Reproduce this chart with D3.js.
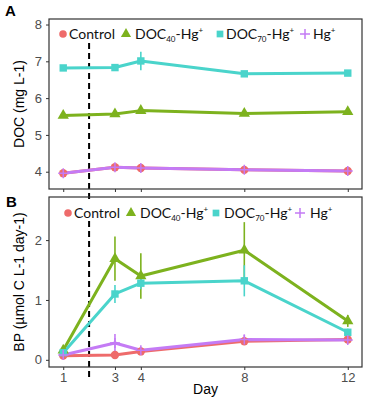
<!DOCTYPE html>
<html><head><meta charset="utf-8">
<script src="https://cdn.jsdelivr.net/npm/d3@7"></script>
<style>body{margin:0;background:#fff}svg{display:block}</style>
</head><body>
<script>
const days = [1, 3, 4, 8, 12];
const seriesNames = ["Control", "DOC40-Hg+", "DOC70-Hg+", "Hg+"];
// Panel A: DOC (mg L-1)
const docControl = [3.96, 4.12, 4.10, 4.05, 4.02];
const docDOC40   = [5.53, 5.57, 5.66, 5.58, 5.63];
const docDOC70   = [6.82, 6.83, 7.01, 6.66, 6.68];
const docHg      = [3.96, 4.12, 4.10, 4.05, 4.02];
const docErrControl = [0.02, 0.03, 0.03, 0.02, 0.02];
const docErrDOC40   = [0.04, 0.04, 0.04, 0.04, 0.04];
const docErrDOC70   = [0.03, 0.04, 0.25, 0.03, 0.03];
const docErrHg      = [0.02, 0.04, 0.04, 0.03, 0.03];
// Panel B: BP (µmol C L-1 day-1)
const bpControl = [0.07, 0.08, 0.14, 0.31, 0.34];
const bpDOC40   = [0.16, 1.69, 1.40, 1.83, 0.65];
const bpDOC70   = [0.12, 1.10, 1.28, 1.32, 0.46];
const bpHg      = [0.08, 0.28, 0.16, 0.34, 0.33];
const bpErrControl = [0.01, 0.02, 0.03, 0.03, 0.03];
const bpErrDOC40   = [0.03, 0.37, 0.38, 0.47, 0.10];
const bpErrDOC70   = [0.02, 0.15, 0.10, 0.26, 0.06];
const bpErrHg      = [0.02, 0.15, 0.06, 0.08, 0.05];
const docTicks = [4, 5, 6, 7, 8];
const bpTicks = [0, 1, 2];
const dayTicks = [1, 3, 4, 8, 12];
const treatmentDay = 2;

const colors = ["#EE6B6B", "#7DB21E", "#4AD4CB", "#C47BF5"];

const W = 367, H = 400;
const svg = d3.select("body").append("svg").attr("width", W).attr("height", H);
const left = 49, right = 362;
const x = d3.scaleLinear().domain([0.45, 12.55]).range([left, right]);

function panel(cfg) {
  const y = d3.scaleLinear().domain(cfg.domain).range([cfg.bottom, cfg.top]);
  const g = svg.append("g");
  const ya = g.append("g").attr("transform", `translate(${left},0)`)
    .call(d3.axisLeft(y).tickValues(cfg.ticks).tickSize(3).tickFormat(d3.format("d")));
  ya.select(".domain").remove();
  ya.selectAll("line").attr("stroke", "#333");
  ya.selectAll("text").attr("fill", "#4d4d4d").attr("font-size", 13)
    .attr("font-family", "Liberation Sans, Arial, sans-serif").attr("dx", -1);
  const xa = g.append("g").attr("transform", `translate(0,${cfg.bottom})`)
    .call(d3.axisBottom(x).tickValues(dayTicks).tickSize(3).tickFormat(cfg.showX ? d3.format("d") : ""));
  xa.select(".domain").remove();
  xa.selectAll("line").attr("stroke", "#333");
  xa.selectAll("text").attr("fill", "#4d4d4d").attr("font-size", 13)
    .attr("font-family", "Liberation Sans, Arial, sans-serif");
  g.append("line").attr("x1", x(treatmentDay)).attr("x2", x(treatmentDay))
    .attr("y1", cfg.top + 24).attr("y2", cfg.bottom + 10)
    .attr("stroke", "#000").attr("stroke-width", 2).attr("stroke-dasharray", "6,4");
  const line = d3.line().x(d => x(d[0])).y(d => y(d[1]));
  cfg.series.forEach((s, i) => {
    const pts = days.map((d, j) => [d, s.v[j], s.e[j]]);
    g.append("g").selectAll("line").data(pts).join("line")
      .attr("x1", d => x(d[0])).attr("x2", d => x(d[0]))
      .attr("y1", d => y(d[1] - d[2])).attr("y2", d => y(d[1] + d[2]))
      .attr("stroke", colors[i]).attr("stroke-width", 1.6);
  });
  cfg.series.forEach((s, i) => {
    const pts = days.map((d, j) => [d, s.v[j]]);
    g.append("path").datum(pts).attr("d", line).attr("fill", "none")
      .attr("stroke", colors[i]).attr("stroke-width", 3).attr("stroke-linejoin", "round");
  });
  cfg.series.forEach((s, i) => {
    const pts = days.map((d, j) => [d, s.v[j]]);
    drawSym(g, i, pts.map(p => [x(p[0]), y(p[1])]), 55);
  });
  g.append("rect").attr("x", left).attr("y", cfg.top).attr("width", right - left)
    .attr("height", cfg.bottom - cfg.top).attr("fill", "none").attr("stroke", "#333").attr("stroke-width", 1.2);
  g.append("text").attr("transform", `translate(${cfg.titleX},${(cfg.top + cfg.bottom) / 2}) rotate(-90)`)
    .attr("text-anchor", "middle").attr("font-size", 14).attr("fill", "#000")
    .attr("font-family", "Liberation Sans, Arial, sans-serif").text(cfg.title);
  g.append("text").attr("x", cfg.labX).attr("y", cfg.labY).attr("font-size", 15).attr("font-weight", "bold")
    .attr("font-family", "Liberation Sans, Arial, sans-serif").text(cfg.label);
  legend(g, cfg.legY, cfg.legX);
}

function symPath(i, size) {
  if (i === 0) return d3.symbol(d3.symbolCircle, size)();
  if (i === 1) return d3.symbol(d3.symbolTriangle, size)();
  return d3.symbol(d3.symbolSquare, size)();
}
function drawSym(g, i, pts, size) {
  if (i < 3) {
    g.append("g").selectAll("path").data(pts).join("path")
      .attr("transform", d => `translate(${d[0]},${d[1]})`)
      .attr("d", symPath(i, size)).attr("fill", colors[i]);
  } else {
    g.append("g").selectAll("path").data(pts).join("path")
      .attr("transform", d => `translate(${d[0]},${d[1]})`)
      .attr("d", "M-5,0H5M0,-5V5").attr("stroke", colors[i]).attr("stroke-width", 1.5).attr("fill", "none");
  }
}

function legend(g, ly, lx) {
  const t = g.append("g").attr("font-family", "Lato, 'Open Sans', sans-serif").attr("font-size", 14).attr("fill", "#111");
  const items = [
    {sym: lx[0], tx: lx[1], parts: [["Control", ""]]},
    {sym: lx[2], tx: lx[3], parts: [["DOC", ""], ["40", "sub"], ["-Hg", "back"], ["+", "sup"]]},
    {sym: lx[4], tx: lx[5], parts: [["DOC", ""], ["70", "sub"], ["-Hg", "back"], ["+", "sup"]]},
    {sym: lx[6], tx: lx[7], parts: [["Hg", ""], ["+", "sup"]]}
  ];
  items.forEach((it, i) => {
    drawSym(g, i, [[it.sym, ly - 5]], 45);
    const txt = t.append("text").attr("x", it.tx).attr("y", ly);
    it.parts.forEach(p => {
      const ts = txt.append("tspan").text(p[0]);
      if (p[1] === "sub") ts.attr("font-size", 8).attr("dy", 3);
      else if (p[1] === "back") ts.attr("dy", -3);
      else if (p[1] === "sup") ts.attr("font-size", 8).attr("dy", -6);
    });
  });
}

panel({
  top: 19, bottom: 189, domain: [3.53, 8.15], ticks: docTicks, showX: false,
  series: [
    {v: docControl, e: docErrControl}, {v: docDOC40, e: docErrDOC40},
    {v: docDOC70, e: docErrDOC70}, {v: docHg, e: docErrHg}
  ],
  title: "DOC (mg L-1)", titleX: 24, label: "A", labX: 5, labY: 16,
  legY: 39, legX: [63, 69, 126, 135, 220, 226, 305, 313]
});
panel({
  top: 197, bottom: 367, domain: [-0.12, 2.72], ticks: bpTicks, showX: true,
  series: [
    {v: bpControl, e: bpErrControl}, {v: bpDOC40, e: bpErrDOC40},
    {v: bpDOC70, e: bpErrDOC70}, {v: bpHg, e: bpErrHg}
  ],
  title: "BP (µmol C L-1 day-1)", titleX: 24, label: "B", labX: 6, labY: 207,
  legY: 218, legX: [68, 74, 131, 140, 216, 224, 300, 310]
});
svg.append("text").attr("x", (left + right) / 2).attr("y", 394).attr("text-anchor", "middle")
  .attr("font-size", 14).attr("font-family", "Liberation Sans, Arial, sans-serif").text("Day");
</script>
</body></html>
